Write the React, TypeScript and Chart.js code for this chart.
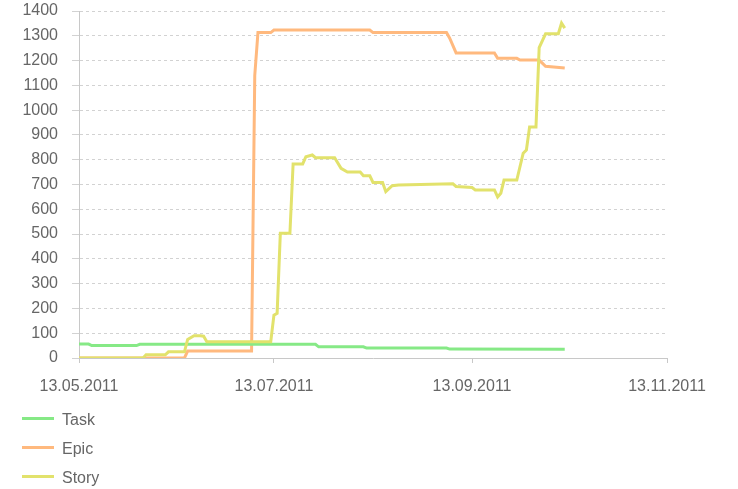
import React, { useEffect, useRef } from "react";
import { Chart, registerables } from "chart.js";

Chart.register(...registerables);

// x values are days since 13.05.2011
const tickDays = [0, 61, 123, 184];
const tickLabels = ["13.05.2011", "13.07.2011", "13.09.2011", "13.11.2011"];

const seriesNames = ["Task", "Epic", "Story"];
const seriesColors = ["#86e986", "#ffb97e", "#e2e26c"];

const taskDays = [0, 3, 4, 18, 19, 74, 75, 89, 90, 115, 116, 152];
const taskValues = [56, 56, 50, 50, 55, 55, 45, 45, 40, 40, 36, 35];

const epicDays = [0, 33, 34, 54, 55, 56, 60, 61, 91, 92, 115, 116, 118, 130, 131, 137, 138, 144, 146, 152];
const epicValues = [0, 0, 28, 28, 1140, 1313, 1313, 1323, 1323, 1313, 1313, 1290, 1231, 1231, 1209, 1209, 1202, 1202, 1177, 1170];

const storyDays = [0, 20, 21, 27, 28, 33, 34, 36, 38, 39, 40, 60, 61, 62, 63, 66, 67, 70, 71, 73, 74, 80, 82, 84, 88, 89, 91, 92, 95, 96, 98, 100, 117, 118, 123, 124, 130, 131, 132, 133, 137, 139, 140, 141, 143, 144, 146, 150, 151, 152];
const storyValues = [0, 0, 13, 13, 25, 25, 75, 90, 90, 88, 66, 66, 173, 180, 503, 503, 783, 783, 812, 819, 808, 808, 765, 750, 750, 735, 735, 708, 708, 671, 695, 698, 703, 692, 688, 678, 678, 650, 665, 718, 718, 826, 839, 932, 932, 1252, 1308, 1308, 1351, 1331];

const FONT = "'Liberation Sans', Arial, sans-serif";
const TEXT = "#666666";

function pts(days: number[], vals: number[]) {
  return days.map((d, i) => ({ x: d, y: vals[i] }));
}

export default function App() {
  const ref = useRef<HTMLCanvasElement | null>(null);

  useEffect(() => {
    if (!ref.current) return;
    const series = [
      pts(taskDays, taskValues),
      pts(epicDays, epicValues),
      pts(storyDays, storyValues),
    ];
    const orders = [1, 2, 0];
    const chart = new Chart(ref.current, {
      type: "line",
      data: {
        datasets: series.map((data, i) => ({
          label: seriesNames[i],
          data,
          borderColor: seriesColors[i],
          backgroundColor: seriesColors[i],
          borderWidth: 3,
          pointRadius: 0,
          tension: 0,
          fill: false,
          order: orders[i],
        })),
      },
      options: {
        animation: false,
        responsive: false,
        devicePixelRatio: 1,
        layout: { padding: { top: 0, right: 71, left: 0, bottom: 0 } },
        plugins: { legend: { display: false }, tooltip: { enabled: false } },
        scales: {
          x: {
            type: "linear",
            min: tickDays[0],
            max: tickDays[tickDays.length - 1],
            afterBuildTicks: (scale: any) => {
              scale.ticks = tickDays.map((v) => ({ value: v }));
            },
            afterFit: (scale: any) => {
              scale.height = 131;
            },
            ticks: {
              autoSkip: false,
              maxRotation: 0,
              padding: 14,
              color: TEXT,
              font: { family: FONT, size: 16 },
              callback: (v: any) => {
                const i = tickDays.indexOf(Number(v));
                return i >= 0 ? tickLabels[i] : "";
              },
            },
            grid: {
              drawOnChartArea: false,
              drawTicks: true,
              tickLength: 5,
              color: "#c8c8c8",
              tickColor: "#c8c8c8",
            },
            border: { display: true, color: "#c8c8c8", width: 1 },
          },
          y: {
            min: 0,
            max: 1400,
            afterFit: (scale: any) => {
              scale.width = 79;
              scale.paddingTop = 11;
            },
            ticks: {
              stepSize: 100,
              padding: 14,
              color: TEXT,
              font: { family: FONT, size: 16 },
              callback: (v: any) => String(v),
            },
            grid: {
              color: "#d2d2d2",
              tickColor: "#d2d2d2",
              tickLength: 7,
              tickBorderDash: [],
            },
            border: { display: true, color: "#c8c8c8", width: 1, dash: [3, 3] },
          },
        },
      },
    } as any);
    return () => chart.destroy();
  }, []);

  const legendTops = [418, 447, 476];

  return (
    <div style={{ position: "absolute", left: 0, top: 0, width: 738, height: 489, background: "#fff" }}>
      <canvas ref={ref} width={738} height={489} style={{ width: 738, height: 489, display: "block" }} />
      {seriesNames.map((name, i) => (
        <div key={name}>
          <div
            style={{
              position: "absolute",
              left: 22,
              top: legendTops[i] - 1,
              width: 32,
              height: 3,
              background: seriesColors[i],
            }}
          />
          <div
            style={{
              position: "absolute",
              left: 62,
              top: legendTops[i] - 7,
              fontFamily: FONT,
              fontSize: 16,
              color: TEXT,
              lineHeight: "18px",
            }}
          >
            {name}
          </div>
        </div>
      ))}
    </div>
  );
}
